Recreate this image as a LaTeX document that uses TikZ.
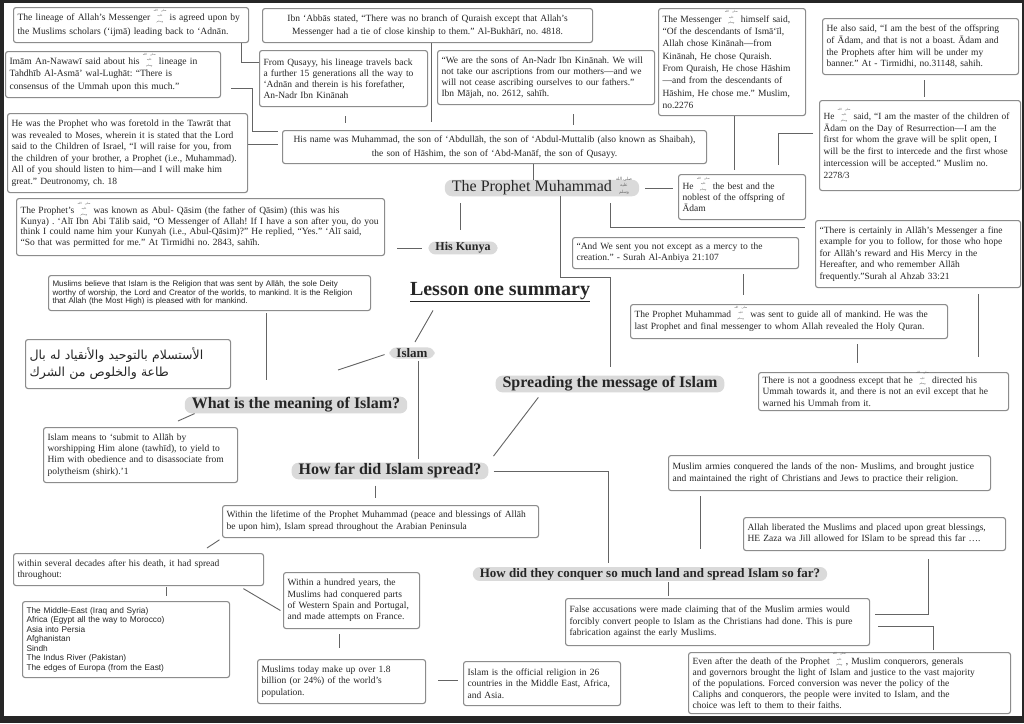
\documentclass[tikz,border=0pt]{standalone}
\usepackage{fontspec}
\setmainfont{Liberation Serif}
\setsansfont{Liberation Sans}
\newfontfamily\arabicfont[Script=Arabic]{DejaVu Sans}
\TeXXeTstate=1
\usepackage{tikz}
\usetikzlibrary{positioning,calc}

\definecolor{boxgray}{RGB}{140,140,140}
\definecolor{pillgray}{RGB}{218,218,218}
\definecolor{linegray}{RGB}{100,100,100}
% small stacked seal for the blessing after the Prophet's name
\newcommand{\sealtext}{\shortstack{\beginR صلى الله\endR\\\beginR عليه\endR\\\beginR وسلم\endR}}
\newcommand{\pbuh}{\raisebox{-1.5pt}[0pt][0pt]{\color{black!60}\arabicfont\fontsize{2.8}{3.6}\selectfont
  \lineskiplimit=0pt\lineskip=0.3pt\sealtext}}
\newcommand{\pbuhbig}{\raisebox{-2pt}[0pt][0pt]{\color{black!60}\arabicfont\fontsize{4.3}{5.4}\selectfont
  \lineskiplimit=0pt\lineskip=0.3pt\sealtext}}

\begin{document}
\frenchspacing\hyphenpenalty=10000
\begin{tikzpicture}[x=1pt,y=-1pt,
  note/.style={draw=boxgray,line width=1.1pt,rounded corners=2.5pt,fill=white,text=black!85,
    anchor=north west,inner xsep=4pt,inner ysep=3pt,align=left,font=\fontsize{9.5}{11.5}\selectfont},
  topic/.style={fill=pillgray,rounded corners=7pt,inner xsep=7pt,inner ysep=1pt,text=black!85},
  link/.style={draw=linegray,line width=0.9pt}]

\useasboundingbox (0,0) rectangle (1024,723);
\fill[black!85] (0,0) rectangle (1024,723);
\fill[white] (4,3) rectangle (1022,716);

% Lineage boxes
\node[note,text width=227pt,minimum height=35pt,font=\fontsize{9.6}{13.3}\selectfont] (lineage) at (13,7)
  {The lineage of Allah's Messenger \pbuh{} is agreed upon by\\the Muslims scholars (‘ijmā) leading back to ‘Adnān.};
\node[note,text width=207pt,minimum height=46pt,font=\fontsize{9.6}{12.2}\selectfont] (nawawi) at (5,51)
  {Imām An-Nawawī said about his \pbuh{} lineage in\\Tahdhīb Al-Asmā’ wal-Lughāt: “There is\\consensus of the Ummah upon this much.”};
\node[note,text width=232pt,minimum height=79pt] (tawrat) at (7,113)
  {He was the Prophet who was foretold in the Tawrāt that\\was revealed to Moses, wherein it is stated that the Lord\\said to the Children of Israel, “I will raise for you, from\\the children of your brother, a Prophet (i.e., Muhammad).\\All of you should listen to him—and I will make him\\great.” Deutronomy, ch. 18};
\node[note,text width=322pt,minimum height=34pt,align=center,font=\fontsize{9.5}{12.3}\selectfont] (abbas) at (262,8)
  {Ibn ‘Abbās stated, “There was no branch of Quraish except that Allah's\\Messenger had a tie of close kinship to them.” Al-Bukhārī, no. 4818.};
\node[note,text width=160pt,minimum height=56pt,font=\fontsize{9.5}{10.8}\selectfont] (qusayy) at (259,50)
  {From Qusayy, his lineage travels back\\a further 15 generations all the way to\\‘Adnān and therein is his forefather,\\An-Nadr Ibn Kinānah};
\node[note,text width=209pt,minimum height=54pt,font=\fontsize{9.5}{10.8}\selectfont] (sons) at (437,50)
  {“We are the sons of An-Nadr Ibn Kinānah. We will\\not take our ascriptions from our mothers—and we\\will not cease ascribing ourselves to our fathers.”\\Ibn Mājah, no. 2612, sahīh.};
\node[note,text width=416pt,minimum height=33pt,align=center,font=\fontsize{9.5}{14.3}\selectfont] (namebox) at (282,130)
  {His name was Muhammad, the son of ‘Abdullāh, the son of ‘Abdul-Muttalib (also known as Shaibah),\\the son of Hāshim, the son of ‘Abd-Manāf, the son of Qusayy.};

% Right column
\node[note,text width=139pt,minimum height=107pt,font=\fontsize{9.5}{12.3}\selectfont] (messenger) at (658,8)
  {The Messenger \pbuh{} himself said,\\“Of the descendants of Ismā‘īl,\\Allah chose Kinānah—from\\Kinānah, He chose Quraish.\\From Quraish, He chose Hāshim\\—and from the descendants of\\Hāshim, He chose me.” Muslim,\\no.2276};
\node[note,text width=188pt,minimum height=56pt,font=\fontsize{9.5}{11.7}\selectfont] (best) at (822,18)
  {He also said, “I am the best of the offspring\\of Ādam, and that is not a boast. Ādam and\\the Prophets after him will be under my\\banner.” At - Tirmidhi, no.31148, sahih.};
\node[note,text width=193pt,minimum height=90pt,font=\fontsize{9.4}{11.7}\selectfont] (master) at (819,100)
  {He \pbuh{} said, “I am the master of the children of\\Ādam on the Day of Resurrection—I am the\\first for whom the grave will be split open, I\\will be the first to intercede and the first whose\\intercession will be accepted.” Muslim no.\\2278/3};
\node[note,text width=119pt,minimum height=45pt,font=\fontsize{9.5}{11.3}\selectfont] (noblest) at (678,174)
  {He \pbuh{} the best and the\\noblest of the offspring of\\Ādam};
\node[note,text width=197pt,minimum height=67pt] (certainly) at (815,220)
  {“There is certainly in Allāh's Messenger a fine\\example for you to follow, for those who hope\\for Allāh's reward and His Mercy in the\\Hereafter, and who remember Allāh\\frequently.”Surah al Ahzab 33:21};
\node[note,text width=218pt,minimum height=31pt,font=\fontsize{9.5}{11}\selectfont] (mercy) at (572,237)
  {“And We sent you not except as a mercy to the\\creation.” - Surah Al-Anbiya 21:107};
\node[note,text width=309pt,minimum height=34pt,font=\fontsize{9.5}{12}\selectfont] (guide) at (630,304)
  {The Prophet Muhammad \pbuh{} was sent to guide all of mankind. He was the\\last Prophet and final messenger to whom Allah revealed the Holy Quran.};
\node[note,text width=242pt,minimum height=38pt,font=\fontsize{9.5}{11.3}\selectfont] (goodness) at (758,372)
  {There is not a goodness except that he \pbuh{} directed his\\Ummah towards it, and there is not an evil except that he\\warned his Ummah from it.};

% Left column
\node[note,text width=360pt,minimum height=57pt,font=\fontsize{9.5}{10.5}\selectfont] (kunyabox) at (16,198)
  {The Prophet's \pbuh{} was known as Abul- Qāsim (the father of Qāsim) (this was his\\Kunya) . ‘Alī Ibn Abi Tālib said, “O Messenger of Allah! If I have a son after you, do you\\think I could name him your Kunyah (i.e., Abul-Qāsim)?” He replied, “Yes.” ‘Alī said,\\“So that was permitted for me.” At Tirmidhi no. 2843, sahīh.};
\node[note,text width=314pt,minimum height=35pt,font=\sffamily\fontsize{8}{8.6}\selectfont] (believe) at (48,275)
  {Muslims believe that Islam is the Religion that was sent by Allāh, the sole Deity\\worthy of worship, the Lord and Creator of the worlds, to mankind. It is the Religion\\that Allah (the Most High) is pleased with for mankind.};
\node[note,text width=197pt,minimum height=49pt,font=\arabicfont\fontsize{12.5}{17}\selectfont] (arabic) at (25,339)
  {\beginR الأستسلام بالتوحيد والأنقياد له بال\endR\\\beginR طاعة والخلوص من الشرك\endR};
\node[note,text width=186pt,minimum height=55pt,font=\fontsize{9.5}{11.3}\selectfont] (means) at (43,427)
  {Islam means to ‘submit to Allāh by\\worshipping Him alone (tawhīd), to yield to\\Him with obedience and to disassociate from\\polytheism (shirk).’1};

% Spread boxes
\node[note,text width=308pt,minimum height=32pt,font=\fontsize{9.5}{12}\selectfont] (lifetime) at (222,505)
  {Within the lifetime of the Prophet Muhammad (peace and blessings of Allāh\\be upon him), Islam spread throughout the Arabian Peninsula};
\node[note,text width=242pt,minimum height=32pt,font=\fontsize{9.5}{11}\selectfont] (decades) at (13,553)
  {within several decades after his death, it had spread\\throughout:};
\node[note,text width=199pt,minimum height=76pt,font=\sffamily\fontsize{8.3}{9.5}\selectfont] (list) at (22,601)
  {The Middle-East (Iraq and Syria)\\Africa (Egypt all the way to Morocco)\\Asia into Persia\\Afghanistan\\Sindh\\The Indus River (Pakistan)\\The edges of Europa (from the East)};
\node[note,text width=128pt,minimum height=56pt,font=\fontsize{9.5}{11.3}\selectfont] (hundred) at (283,572)
  {Within a hundred years, the\\Muslims had conquered parts\\of Western Spain and Portugal,\\and made attempts on France.};
\node[note,text width=160pt,minimum height=44pt,font=\fontsize{9.5}{11.7}\selectfont] (today) at (257,659)
  {Muslims today make up over 1.8\\billion (or 24\%) of the world's\\population.};
\node[note,text width=149pt,minimum height=44pt,font=\fontsize{9.5}{11.3}\selectfont] (official) at (463,661)
  {Islam is the official religion in 26\\countries in the Middle East, Africa,\\and Asia.};
\node[note,text width=314pt,minimum height=35pt,font=\fontsize{9.5}{11.7}\selectfont] (armies) at (668,455)
  {Muslim armies conquered the lands of the non- Muslims, and brought justice\\and maintained the right of Christians and Jews to practice their religion.};
\node[note,text width=254pt,minimum height=33pt,font=\fontsize{9.5}{11}\selectfont] (liberated) at (743,517)
  {Allah liberated the Muslims and placed upon great blessings,\\HE Zaza wa Jill allowed for ISlam to be spread this far ….};
\node[note,text width=296pt,minimum height=47pt] (false) at (565,598)
  {False accusations were made claiming that of the Muslim armies would\\forcibly convert people to Islam as the Christians had done. This is pure\\fabrication against the early Muslims.};
\node[note,text width=314pt,minimum height=61pt,font=\fontsize{9.5}{11}\selectfont] (evenafter) at (688,652)
  {Even after the death of the Prophet \pbuh, Muslim conquerors, generals\\and governors brought the light of Islam and justice to the vast majority\\of the populations. Forced conversion was never the policy of the\\Caliphs and conquerors, the people were invited to Islam, and the\\choice was left to them to their faiths.};

% Topics
\node[topic,font=\fontsize{16}{16}\selectfont] (prophet) at (542,188)
  {The Prophet Muhammad \pbuhbig};
\node[topic,font=\bfseries\fontsize{12}{12}\selectfont] (kunya) at (463,248) {His Kunya};
\node[font=\bfseries\fontsize{20}{20}\selectfont,text=black!85] (lesson) at (500,292) {\underline{Lesson one summary}};
\node[topic,font=\bfseries\fontsize{13}{13}\selectfont] (islam) at (412,353) {Islam};
\node[topic,font=\bfseries\fontsize{16}{16}\selectfont] (spreading) at (610,384) {Spreading the message of Islam};
\node[topic,font=\bfseries\fontsize{16}{16}\selectfont] (meaning) at (296,405) {What is the meaning of Islam?};
\node[topic,font=\bfseries\fontsize{16}{16}\selectfont] (howfar) at (390,471) {How far did Islam spread?};
\node[topic,font=\bfseries\fontsize{13}{13}\selectfont] (howdid) at (650,574) {How did they conquer so much land and spread Islam so far?};

\coordinate (islamend) at (338,370);
\coordinate (meanend) at (178,421);
\coordinate (lifeend) at (207,548);

% Connections
\draw[link] (lineage.south -| 241,0) |- (qusayy.west |- 0,62);
\draw[link,shorten <=10pt,shorten >=4pt] (nawawi.east |- 0,88) -| (252,131) -- (namebox.west |- 0,131);
\draw[link,shorten >=4pt] (tawrat.east |- 0,144) -- (namebox.west |- 0,144);
\draw[link,shorten >=8pt] (abbas.south -| 431,0) -- (namebox.north -| 431,0);
\draw[link,shorten <=9pt,shorten >=7pt] (qusayy.south -| 345,0) -- (namebox.north -| 345,0);
\draw[link,shorten <=9pt,shorten >=5pt] (sons.south -| 573,0) -- (namebox.north -| 573,0);
\draw[link] (namebox.south -| 533,0) -- (prophet.north -| 533,0);

\draw[link,shorten >=4pt] (messenger.south -| 734,0) -- (noblest.north -| 734,0);
\draw[link,shorten <=5pt,shorten >=3pt] (best.south -| 924,0) -- (master.north -| 924,0);
\draw[link,shorten <=6pt,shorten >=9pt] (master.west |- 0,133) -| (noblest.north -| 778,0);
\draw[link,shorten <=6pt,shorten >=5pt] (prophet.east) -- (noblest.west |- prophet.east);
\draw[link,shorten <=7pt,shorten >=10pt] (prophet.south -| 610,0) |- (certainly.west |- 0,227);
\draw[link,shorten >=8pt] (prophet.south -| 560,0) |- (610,277) -- (spreading.north -| 610,0);
\draw[link,shorten <=5pt,shorten >=9pt] (mercy.south -| 743,0) -- (guide.north -| 743,0);
\draw[link,shorten <=5pt,shorten >=9pt] (guide.south -| 857,0) -- (goodness.north -| 857,0);
\draw[link,shorten <=6pt,shorten >=15pt] (certainly.south -| 978,0) -- (goodness.north -| 978,0);

\draw[link,shorten <=12pt,shorten >=6pt] (kunyabox.east |- kunya.west) -- (kunya.west);
\draw[link,shorten <=7pt,shorten >=11pt] (prophet.south -| 460,0) -- (kunya.north -| 460,0);
\draw[link,shorten <=2pt,shorten >=16pt] (believe.south -| 266,0) -- (meaning.north -| 266,0);
\draw[link,shorten <=6pt,shorten >=6pt] ([xshift=-64pt]lesson.south) -- (islam.north);
\draw[link,shorten <=5pt] (islam.west) -- (islamend);
\draw[link,shorten <=2pt,shorten >=3pt] (islam.south -| 418,0) -- (howfar.north -| 418,0);
\draw[link] ([xshift=10pt]meaning.south west) -- (meanend);
\draw[link,shorten <=6pt,shorten >=8pt] ([xshift=-68pt]spreading.south) -- (howfar.north east);

\draw[link,shorten <=5pt,shorten >=4pt] (howfar.east) -| (howdid.north -| 608,0);
\draw[link,shorten <=6pt,shorten >=7pt] (howfar.south -| 375,0) -- (lifetime.north -| 375,0);
\draw[link,shorten <=3pt] (lifetime.south west) -- (lifeend);
\draw[link,shorten <=1pt,shorten >=5pt] (decades.south -| 166,0) -- (list.north -| 166,0);
\draw[link,shorten <=5pt,shorten >=3pt] ([xshift=-25pt]decades.south east) -- (hundred.west |- 0,612);
\draw[link,shorten <=5pt,shorten >=11pt] (hundred.south -| 339,0) -- (today.north -| 339,0);
\draw[link,shorten <=12pt,shorten >=5pt] (today.east |- 0,680) -- (official.west |- 0,680);

\draw[link,shorten <=1pt,shorten >=2pt] (howdid.south -| 668,0) -- (false.north -| 668,0);
\draw[link,shorten <=5pt,shorten >=18pt] (armies.south -| 700,0) -- (howdid.north -| 700,0);
\draw[link,shorten <=8pt,shorten >=5pt] (liberated.south -| 928,0) |- (false.east |- 0,614);
\draw[link,shorten <=8pt,shorten >=2pt] (false.east |- 0,626) -| (evenafter.north -| 933,0);

\end{tikzpicture}
\end{document}
